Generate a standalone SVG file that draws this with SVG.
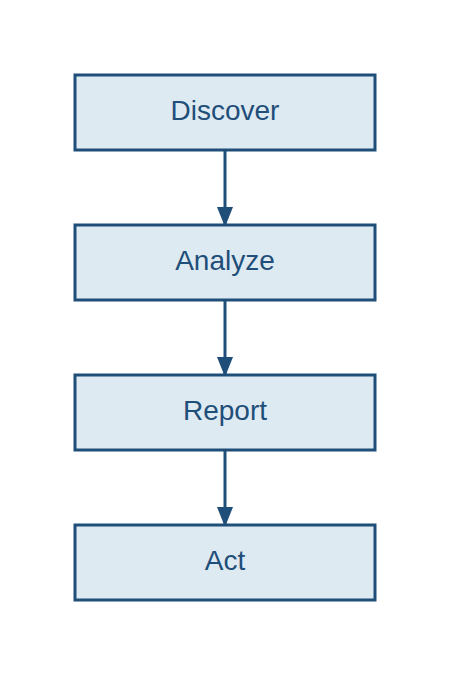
<svg xmlns="http://www.w3.org/2000/svg" width="450" height="675" viewBox="0 0 450 675">
<defs>
<style>
.node rect{fill:#deeaf2;stroke:#1f4e79;stroke-width:3}
.node text{font-family:"Liberation Sans",Arial,sans-serif;font-size:28px;fill:#1f4e79;text-anchor:middle;dominant-baseline:central}
.edge{stroke:#1f4e79;stroke-width:3;fill:none;marker-end:url(#ah)}
</style>
<marker id="ah" viewBox="0 0 20 16" refX="20" refY="8" markerWidth="20" markerHeight="16" markerUnits="userSpaceOnUse" orient="auto">
<path d="M0,0 L20,8 L0,16 Z" fill="#1f4e79"/>
</marker>
</defs>
<rect width="450" height="675" fill="#ffffff"/>
<g id="connectors">
<line class="edge" x1="225" y1="150" x2="225" y2="227"/>
<line class="edge" x1="225" y1="300" x2="225" y2="377"/>
<line class="edge" x1="225" y1="450" x2="225" y2="527"/>
</g>
<g id="discover" class="node"><rect x="75" y="75" width="300" height="75"/><text x="225" y="110">Discover</text></g>
<g id="analyze" class="node"><rect x="75" y="225" width="300" height="75"/><text x="225" y="260">Analyze</text></g>
<g id="report" class="node"><rect x="75" y="375" width="300" height="75"/><text x="225" y="410">Report</text></g>
<g id="act" class="node"><rect x="75" y="525" width="300" height="75"/><text x="225" y="560">Act</text></g>
</svg>
